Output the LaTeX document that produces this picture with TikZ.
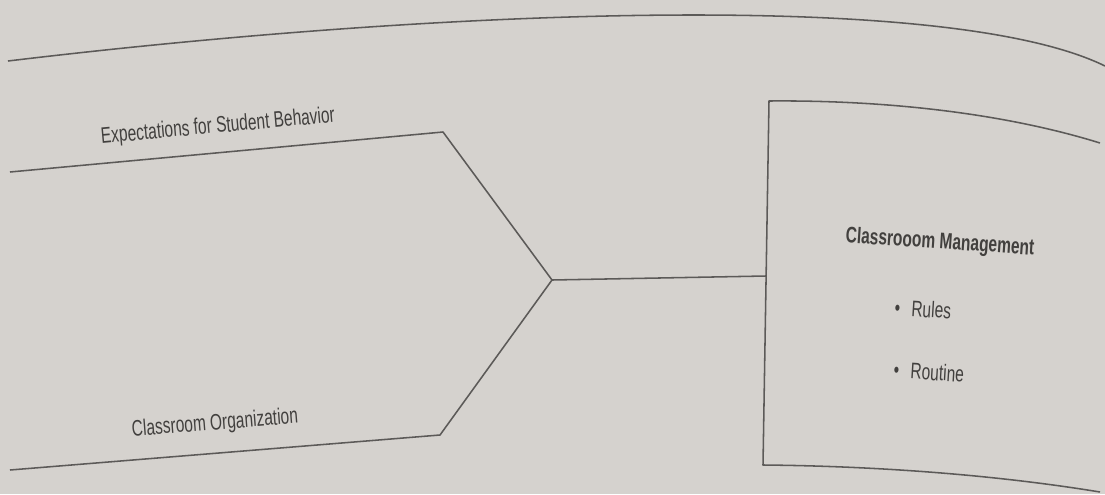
\documentclass[tikz,border=0pt]{standalone}
\usepackage{fontspec}
\setmainfont{Liberation Sans}
\newfontfamily\narrowfont[FakeStretch=0.69]{Liberation Sans}
\definecolor{paper}{RGB}{213,210,206}
\definecolor{ink}{RGB}{92,90,88}
\definecolor{txt}{RGB}{66,64,62}

\begin{document}
\begin{tikzpicture}[x=0.025cm,y=-0.025cm,line width=1.1pt,font=\narrowfont\fontsize{16}{18}\selectfont,
    every node/.style={text=txt,inner sep=1pt},
    bone/.style={draw=ink,line join=round}]
    \fill[paper] (0,0) rectangle (1105,494);
    \useasboundingbox (0,0) rectangle (1105,494);
    % page edge curve
    \draw[bone] (8,61) .. controls (450,8) and (950,-10) .. (1105,66);
    % fishbone
    \coordinate (tl) at (10,172);
    \coordinate (tv) at (443,132);
    \coordinate (tip) at (552,280);
    \coordinate (bv) at (440,435);
    \coordinate (bl) at (10,470);
    \draw[bone] (tl)--(tv)--(tip)--(bv)--(bl);
    % effect box
    \coordinate (nw) at (769,101);
    \coordinate (sw) at (763,465);
    \coordinate (ne) at (1100,143);
    \coordinate (se) at (1100,492);
    \coordinate (bw) at (766,276);
    \draw[bone] (ne) .. controls (1000,112) and (880,100) .. (nw)--(sw)
        .. controls (870,466) and (990,474) .. (se);
    \draw[bone] (tip)--(bw);
    % labels
    \node[rotate=5.2] (exp) at (218,127) {Expectations for Student Behavior};
    \node[rotate=4.5] (org) at (215,424) {Classroom Organization};
    \node[rotate=-3.8,font=\narrowfont\bfseries\fontsize{16}{18}\selectfont] (mgmt) at (940,243) {Classrooom Management};
    \node[rotate=-3.5] (rules) at (923,309) {\textbullet\enspace Rules};
    \node[rotate=-3.5] (routine) at (929,372) {\textbullet\enspace Routine};
\end{tikzpicture}
\end{document}
